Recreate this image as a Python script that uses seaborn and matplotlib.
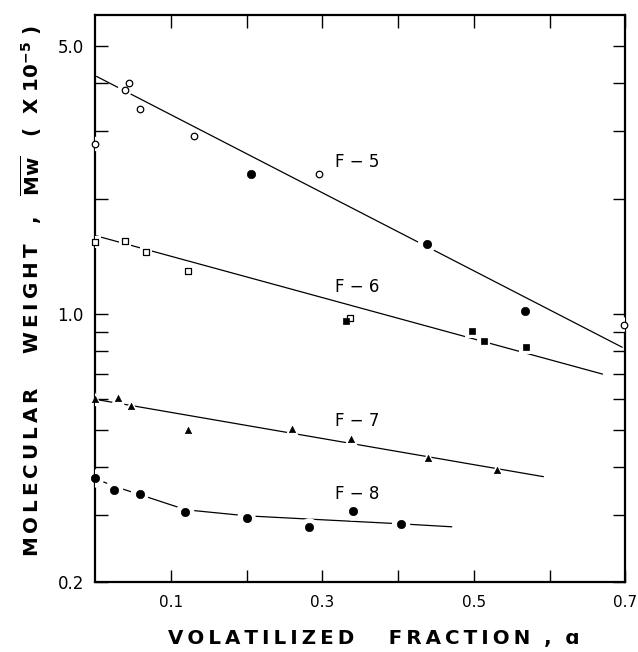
import matplotlib
matplotlib.use("Agg")
import matplotlib.pyplot as plt
import seaborn as sns
import pandas as pd
import numpy as np
from matplotlib.ticker import FixedLocator, NullFormatter, FixedFormatter

# ---- data ----
f5_x = [0.000, 0.039, 0.045, 0.059, 0.131, 0.206, 0.296, 0.438, 0.568, 0.698]
f5_y = [2.78, 3.84, 4.02, 3.43, 2.91, 2.32, 2.32, 1.52, 1.02, 0.94]
f5_filled = [False, False, False, False, False, True, False, True, True, False]
f5_fit_x = [0.002, 0.696]
f5_fit_y = [4.17, 0.82]

f6_x = [0.000, 0.040, 0.067, 0.123, 0.337, 0.331, 0.498, 0.513, 0.569]
f6_y = [1.54, 1.55, 1.45, 1.30, 0.978, 0.96, 0.906, 0.85, 0.82]
f6_filled = [False, False, False, False, False, True, True, True, True]
f6_fit_x = [0.002, 0.670]
f6_fit_y = [1.60, 0.698]

f7_x = [0.000, 0.030, 0.048, 0.123, 0.260, 0.338, 0.440, 0.531]
f7_y = [0.60, 0.604, 0.577, 0.498, 0.501, 0.472, 0.422, 0.392]
f7_fit_x = [0.000, 0.592]
f7_fit_y = [0.60, 0.377]

f8_x = [0.000, 0.025, 0.059, 0.119, 0.200, 0.283, 0.340, 0.404]
f8_y = [0.373, 0.349, 0.340, 0.305, 0.295, 0.278, 0.306, 0.284]
f8_fit_x = [0.000, 0.025, 0.060, 0.120, 0.200, 0.300, 0.404, 0.471]
f8_fit_y = [0.373, 0.356, 0.338, 0.309, 0.298, 0.291, 0.284, 0.279]

labels = ["F \u2212 5", "F \u2212 6", "F \u2212 7", "F \u2212 8"]
label_x = [0.346, 0.346, 0.346, 0.346]
label_y = [2.50, 1.18, 0.527, 0.340]

y_major = [0.2, 1.0, 5.0]
y_major_labels = ["0.2", "1.0", "5.0"]
y_minor = [0.3, 0.4, 0.5, 0.6, 0.7, 0.8, 0.9, 2.0, 3.0, 4.0]
x_ticks = [0.1, 0.2, 0.3, 0.4, 0.5, 0.6, 0.7]
x_tick_labels = ["0.1", "", "0.3", "", "0.5", "", "0.7"]

# ---- build tables ----
fits = pd.concat([
    pd.DataFrame({"x": f5_fit_x, "y": f5_fit_y, "s": "F-5"}),
    pd.DataFrame({"x": f6_fit_x, "y": f6_fit_y, "s": "F-6"}),
    pd.DataFrame({"x": f7_fit_x, "y": f7_fit_y, "s": "F-7"}),
    pd.DataFrame({"x": f8_fit_x, "y": f8_fit_y, "s": "F-8"}),
], ignore_index=True)

sns.set_style("ticks")
plt.rcParams["font.family"] = ["DejaVu Sans"]
plt.rcParams["mathtext.fontset"] = "dejavusans"
for k in ["text.color", "axes.labelcolor", "xtick.color", "ytick.color",
          "xtick.labelcolor", "ytick.labelcolor"]:
    plt.rcParams[k] = "black"

fig = plt.figure(figsize=(6.38, 6.52), dpi=100)
ax = fig.add_axes([0.149, 0.107, 0.831, 0.870])
ax.set_yscale("log")

sns.lineplot(data=fits, x="x", y="y", units="s", estimator=None, color="black",
             linewidth=0.9, sort=False, ax=ax, zorder=2, legend=False)

def draw(xs, ys, filled, marker, size_open, size_filled):
    df = pd.DataFrame({"x": xs, "y": ys, "f": filled})
    # white halo creating the small gaps in the fitted lines
    for fl, sz in [(False, size_open), (True, size_filled)]:
        d = df[df.f == fl]
        if len(d) == 0:
            continue
        sns.scatterplot(data=d, x="x", y="y", marker=marker, s=(sz * 2.2) ** 2,
                        color="white", edgecolor="none", ax=ax, zorder=3, legend=False)
    for fl, sz in [(False, size_open), (True, size_filled)]:
        d = df[df.f == fl]
        if len(d) == 0:
            continue
        if fl:
            sns.scatterplot(data=d, x="x", y="y", marker=marker, s=sz ** 2,
                            color="black", edgecolor="black", linewidth=0.5,
                            ax=ax, zorder=4, legend=False, clip_on=False)
        else:
            sns.scatterplot(data=d, x="x", y="y", marker=marker, s=sz ** 2,
                            facecolor="white", edgecolor="black", linewidth=0.9,
                            ax=ax, zorder=4, legend=False, clip_on=False)

draw(f5_x, f5_y, f5_filled, "o", 4.7, 6.0)
draw(f6_x, f6_y, f6_filled, "s", 4.0, 4.5)
draw(f7_x, f7_y, [True] * len(f7_x), "^", 4.5, 4.5)
draw(f8_x, f8_y, [True] * len(f8_x), "o", 6.0, 6.0)

for t, lx, ly in zip(labels, label_x, label_y):
    ax.text(lx, ly, t, ha="center", va="center", fontsize=12, color="black")

ax.set_xlim(0, 0.7)
ax.set_ylim(0.2, 6.03)
ax.yaxis.set_major_locator(FixedLocator(y_major))
ax.yaxis.set_major_formatter(FixedFormatter(y_major_labels))
ax.yaxis.set_minor_locator(FixedLocator(y_minor))
ax.yaxis.set_minor_formatter(NullFormatter())
ax.xaxis.set_major_locator(FixedLocator(x_ticks))
ax.xaxis.set_major_formatter(FixedFormatter(x_tick_labels))

ax.tick_params(which="both", direction="in", top=True, right=True, length=9,
               width=1.0, color="black")
ax.tick_params(axis="y", labelsize=12, pad=8)
ax.tick_params(axis="x", labelsize=11, pad=9)
for sp in ax.spines.values():
    sp.set_linewidth(1.6)
    sp.set_color("black")

def spaced(word):
    return "\u2009".join(word)

xlabel = spaced("VOLATILIZED") + "     " + spaced("FRACTION") + "  ,  \u0251"
ylabel = (spaced("MOLECULAR") + "     " + spaced("WEIGHT") + "   ,   "
          + r"$\overline{\mathbf{Mw}}$" + "   (  X "
          + r"$\mathbf{10^{-5}}$" + " )")

ax.set_xlabel(xlabel, fontsize=14.3, fontweight="bold")
ax.set_ylabel(ylabel, fontsize=14.3, fontweight="bold")
ax.xaxis.set_label_coords(0.525, -0.083)
ax.yaxis.set_label_coords(-0.097, 0.513)

fig.savefig("out.png", dpi=100)
